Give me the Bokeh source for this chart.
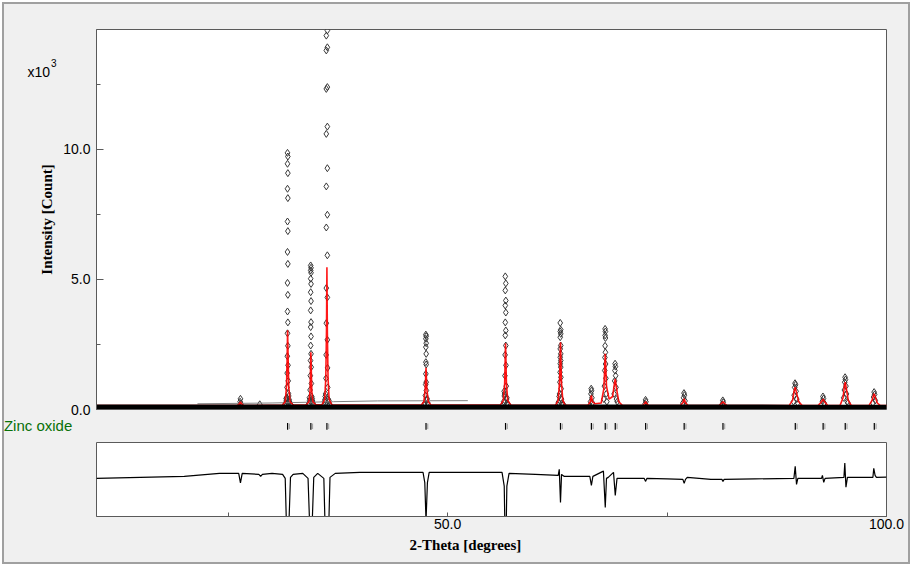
from bokeh.plotting import figure
from bokeh.models import Range1d, FixedTicker, Label, ColumnDataSource
from bokeh.layouts import column
from bokeh.embed import file_html
from bokeh.resources import INLINE
from bokeh.transform import dodge

# ---------------- data ----------------
# Zinc oxide reflection positions (2-theta, degrees)
zno_2theta = [31.77, 34.42, 36.25, 47.54, 56.60, 62.86, 66.38, 67.96, 69.10,
              72.56, 76.95, 81.37, 89.61, 92.78, 95.30, 98.61]

# observed points (2-theta, counts) -- peaks 26-37 deg
obs_2theta_a = [26.40, 26.36, 26.45, 28.60,
                31.76, 31.80, 31.76, 31.80, 31.76, 31.80, 31.76, 31.80, 31.76, 31.80,
                31.76, 31.80, 31.76, 31.80, 31.76, 31.80, 31.74, 31.82, 31.72, 31.84,
                31.70, 31.86, 31.66, 31.90, 31.62, 31.95, 31.55, 32.02, 31.48, 32.10,
                31.42, 32.16, 31.60, 31.97,
                34.40, 34.44, 34.40, 34.44, 34.40, 34.44, 34.40, 34.44, 34.40, 34.44,
                34.40, 34.44, 34.40, 34.44, 34.38, 34.46, 34.36, 34.48, 34.33, 34.52,
                34.28, 34.58, 34.20, 34.65, 34.12, 34.72, 34.25, 34.60,
                36.18, 36.30, 36.18, 36.30, 36.18, 36.30, 36.18, 36.30, 36.18, 36.30,
                36.18, 36.30, 36.18, 36.30, 36.18, 36.30, 36.18, 36.30, 36.16, 36.32,
                36.14, 36.34, 36.10, 36.38, 36.05, 36.44, 35.98, 36.52, 35.90, 36.60,
                36.02, 36.47]
obs_counts_a = [410, 300, 230, 200,
                9870, 9730, 9450, 9090, 8490, 8130, 7230, 6860, 6060, 5600,
                4870, 4410, 3770, 3350, 2930, 2450, 2050, 1700, 1400, 1100,
                850, 620, 450, 520, 330, 380, 250, 270, 190, 200,
                170, 180, 420, 300,
                5540, 5450, 5350, 5260, 5030, 4830, 4510, 4170, 3810, 3360,
                3170, 2810, 2460, 2140, 1880, 1630, 1300, 1000, 750, 500,
                350, 420, 250, 270, 180, 190, 450, 330,
                15300, 14580, 14380, 13930, 13810, 12400, 12330, 10880, 10600, 9280,
                8580, 7490, 7000, 5930, 4670, 4310, 3320, 2680, 2100, 1600,
                1200, 850, 600, 400, 500, 280, 300, 200, 180, 190,
                380, 350]

# observed points -- peaks 47-57 deg
obs_2theta_b = [47.52, 47.56, 47.52, 47.56, 47.52, 47.56, 47.52, 47.56, 47.52, 47.56,
                47.50, 47.58, 47.47, 47.62, 47.42, 47.66, 47.36, 47.72, 47.30, 47.78,
                56.57, 56.63, 56.57, 56.63, 56.57, 56.63, 56.57, 56.63, 56.57, 56.63,
                56.55, 56.65, 56.53, 56.68, 56.49, 56.72, 56.44, 56.78, 56.38, 56.85,
                56.30, 56.92, 56.46, 56.75]
obs_counts_b = [2880, 2820, 2720, 2550, 2400, 2140, 1820, 1730, 1370, 1050,
                960, 730, 540, 380, 250, 420, 200, 260, 180, 190,
                5120, 4850, 4580, 4190, 4000, 3730, 3350, 3040, 2850, 2460,
                2100, 1700, 1300, 900, 600, 400, 700, 250, 300, 200,
                180, 190, 520, 450]

# observed points -- peaks 62-70 deg
obs_2theta_c = [62.83, 62.89, 62.83, 62.89, 62.83, 62.89, 62.83, 62.89, 62.83, 62.89,
                62.83, 62.89, 62.81, 62.91, 62.79, 62.94, 62.75, 62.98, 62.70, 63.04,
                62.62, 63.12, 62.55, 63.20,
                66.36, 66.40, 66.33, 66.44, 66.28, 66.50,
                67.94, 67.98, 67.94, 67.98, 67.94, 67.98, 67.92, 68.00, 67.90, 68.03,
                67.86, 68.07, 67.80, 68.14,
                69.08, 69.12, 69.06, 69.14, 69.03, 69.18, 68.97, 69.24, 69.32]
obs_counts_c = [3330, 3070, 3000, 2910, 2780, 2460, 2330, 2140, 2010, 1880,
                1760, 1630, 1430, 1240, 1050, 800, 600, 400, 500, 250,
                280, 200, 180, 190,
                800, 720, 600, 450, 300, 250,
                3100, 3000, 2850, 2750, 2450, 2200, 2000, 1750, 1500, 1200,
                900, 600, 400, 300,
                1760, 1650, 1500, 1300, 1100, 850, 600, 400, 300]

# observed points -- peaks 72-99 deg
obs_2theta_d = [72.55, 72.60, 72.50,
                76.93, 76.98, 76.88, 77.05, 76.80,
                81.35, 81.40, 81.28,
                89.58, 89.64, 89.54, 89.70, 89.48, 89.78, 89.40, 89.88,
                92.76, 92.82, 92.70, 92.90,
                95.28, 95.33, 95.24, 95.38, 95.20, 95.44, 95.12, 95.52, 95.60,
                98.59, 98.65, 98.53, 98.72, 98.45]
obs_counts_d = [370, 300, 220,
                630, 550, 450, 330, 250,
                350, 280, 200,
                1010, 950, 850, 700, 550, 400, 300, 250,
                500, 420, 320, 250,
                1240, 1150, 1050, 900, 750, 600, 450, 300, 250,
                670, 580, 480, 350, 250]

# observed background band
band_2theta = [10.0, 30.0, 50.0, 70.0, 90.0, 100.0]
band_counts = [105, 110, 110, 105, 100, 100]

# faint grey background line
bkg_2theta = [21.5, 30.0, 37.0, 42.0, 52.3]
bkg_counts = [220, 250, 300, 330, 340]

# calculated profile (red)
calc_2theta = [10.0, 20.0, 26.0, 26.3, 26.4, 26.5, 26.8,
               31.2, 31.5, 31.65, 31.72, 31.77, 31.83, 31.9, 32.05, 32.4,
               33.9, 34.2, 34.33, 34.38, 34.42, 34.47, 34.53, 34.65, 35.0,
               35.7, 36.0, 36.12, 36.2, 36.25, 36.3, 36.38, 36.5, 36.8,
               47.0, 47.3, 47.45, 47.54, 47.63, 47.8, 48.1,
               56.0, 56.35, 56.5, 56.6, 56.7, 56.85, 57.2,
               62.3, 62.6, 62.76, 62.86, 62.96, 63.12, 63.4,
               66.0, 66.25, 66.38, 66.5, 66.8, 67.5, 67.8, 67.96, 68.1, 68.4,
               68.8, 69.0, 69.1, 69.2, 69.5, 69.9,
               72.2, 72.45, 72.56, 72.67, 72.9,
               76.5, 76.8, 76.95, 77.1, 77.4,
               80.9, 81.2, 81.37, 81.55, 81.85,
               88.9, 89.3, 89.5, 89.6, 89.75, 90.0, 90.4,
               92.2, 92.55, 92.78, 92.95, 93.3,
               94.7, 95.05, 95.22, 95.3, 95.4, 95.65, 96.0,
               98.0, 98.35, 98.55, 98.61, 98.7, 98.95, 99.3, 100.0]
calc_counts = [150, 150, 150, 220, 300, 220, 150,
               170, 300, 900, 2000, 3050, 2000, 900, 300, 170,
               170, 300, 700, 1500, 2200, 1500, 700, 300, 180,
               180, 400, 1200, 3000, 5470, 3000, 1200, 400, 180,
               170, 300, 800, 1600, 800, 300, 170,
               170, 350, 1000, 2550, 1000, 350, 170,
               160, 350, 1100, 2590, 1100, 350, 160,
               170, 300, 540, 300, 220, 250, 800, 2140, 900, 400,
               500, 1000, 1180, 900, 300, 160,
               150, 230, 300, 230, 150,
               150, 260, 410, 260, 150,
               150, 230, 300, 230, 150,
               150, 350, 750, 860, 650, 300, 150,
               150, 280, 400, 300, 150,
               150, 450, 950, 1050, 850, 350, 150,
               150, 350, 580, 600, 500, 250, 150, 150]

# difference curve (plotted as calc - obs)
diff_2theta = [10.0, 15.0, 20.0, 24.0, 26.2, 26.4, 26.6, 28.5, 28.7, 28.9, 30.0,
               31.2, 31.5, 31.65, 31.77, 31.9, 32.1, 32.4,
               33.5, 34.1, 34.3, 34.42, 34.55, 34.75, 35.2,
               35.9, 36.1, 36.25, 36.4, 36.6, 37.2,
               40.0, 45.0, 47.2, 47.4, 47.54, 47.7, 47.9,
               50.0, 55.0, 56.2, 56.45, 56.6, 56.75, 57.0,
               60.0, 62.6, 62.72, 62.86, 62.98, 63.3,
               64.5, 66.2, 66.38, 66.55,
               67.75, 67.96, 68.1, 68.3, 68.9, 69.1, 69.3,
               70.0, 72.4, 72.56, 72.7,
               75.0, 76.8, 76.95, 77.1, 77.3,
               80.0, 81.25, 81.37, 81.5, 85.0,
               89.45, 89.6, 89.75, 89.9,
               92.6, 92.7, 92.85, 93.0,
               95.15, 95.25, 95.38, 95.55,
               98.45, 98.55, 98.7, 98.85, 100.0]
diff_counts = [-84, -56, -28, 56, 56, -210, 56, 28, -28, 28, 56,
               28, -84, -1500, -6800, -1500, -56, 28,
               56, -84, -1500, -3300, -1500, -56, 56,
               -84, -2000, -9500, -2000, -56, 56,
               84, 84, 84, -200, -1280, -200, 84,
               84, 84, 84, -300, -2550, -300, 56,
               28, 0, 168, -756, 28, -28,
               -28, -28, -280, -28,
               120, -896, -84, -56, 84, -560, -84,
               -84, -84, -168, -84,
               -98, -112, -224, -112, -56,
               -112, -112, -168, -112, -98,
               -84, 252, -252, -84,
               -84, 0, -196, -84,
               -56, 344, -328, -56,
               -56, 196, 0, -56, -48]

# axis ticks
x_major = [50, 100]
x_minor = [25, 75]
x_labels = {50: "50.0", 100: "100.0"}
y_major = [0, 5000, 10000]
y_minor = [2500, 7500, 12500]
y_labels = {0: "0.0", 5000: "5.0", 10000: "10.0"}

# ---------------- styling ----------------
BG = "#f0f0f0"
FRAME = "#5a5a5a"
SANS = "Liberation Sans"
SERIF = "Liberation Serif"
W = 904
ML, MR = 92, 22

xr = Range1d(10, 100)

# ---- main panel ----
p = figure(width=W, height=414, x_range=xr, y_range=Range1d(0, 14615),
           output_backend="svg", toolbar_location=None, x_axis_location=None,
           min_border_left=ML, min_border_right=MR, min_border_top=25, min_border_bottom=9)
p.background_fill_color = "white"
p.border_fill_color = BG
p.outline_line_color = FRAME
p.grid.visible = False
ya = p.yaxis[0]
ya.ticker = FixedTicker(ticks=y_major, minor_ticks=y_minor)
ya.major_label_overrides = y_labels
ya.major_tick_in = 7
ya.major_tick_out = 0
ya.minor_tick_in = 4
ya.minor_tick_out = 0
ya.major_tick_line_color = FRAME
ya.minor_tick_line_color = FRAME
ya.axis_line_color = FRAME
ya.major_label_text_font = SANS
ya.major_label_text_font_size = "14px"
ya.major_label_text_color = "black"
ya.major_label_standoff = 6
ya.axis_label = "Intensity [Count]"
ya.axis_label_text_font = SERIF
ya.axis_label_text_font_style = "bold"
ya.axis_label_text_font_size = "15px"
ya.axis_label_text_color = "black"
ya.axis_label_standoff = 5

for xs, ys in [(obs_2theta_a, obs_counts_a), (obs_2theta_b, obs_counts_b),
               (obs_2theta_c, obs_counts_c), (obs_2theta_d, obs_counts_d)]:
    p.scatter(xs, ys, marker="diamond", size=7, line_color="#383838",
              fill_color=None, line_width=1)
p.line(bkg_2theta, bkg_counts, line_color="#808080", line_width=1)
p.line(calc_2theta, calc_counts, line_color="red", line_width=1.6, line_alpha=0.9)
p.line(band_2theta, band_counts, line_color="black", line_width=4.5)

p.add_layout(Label(x=2.14, y=12973, text="x10",
                   text_font=SANS, text_font_size="14px", text_color="black",
                   text_baseline="alphabetic"), "left")
p.add_layout(Label(x=4.82, y=13308, text="3",
                   text_font=SANS, text_font_size="10px", text_color="black",
                   text_baseline="alphabetic"), "left")

# ---- phase tick strip ----
pt = figure(width=W, height=23, x_range=xr, y_range=Range1d(0, 1),
            output_backend="svg", toolbar_location=None,
            x_axis_location=None, y_axis_location=None,
            min_border_left=ML, min_border_right=MR, min_border_top=0, min_border_bottom=0)
pt.background_fill_color = BG
pt.border_fill_color = BG
pt.outline_line_color = None
pt.grid.visible = False
tsrc = ColumnDataSource(dict(x=zno_2theta))
pt.segment(x0=dodge("x", 0.2), x1=dodge("x", 0.2), y0=0.54, y1=0.78, source=tsrc,
           line_color="#9a9a9a", line_width=1)
pt.segment(x0="x", x1="x", y0=0.51, y1=0.80, source=tsrc, line_color="black", line_width=1.2)
pt.add_layout(Label(x=-0.55, y=0.70, text="Zinc oxide",
                    text_font=SANS, text_font_size="15px", text_color="#087008",
                    text_baseline="middle"), "left")

# ---- difference panel ----
pd_ = figure(width=W, height=121, x_range=xr, y_range=Range1d(-1150, 920),
             output_backend="svg", toolbar_location=None, y_axis_location=None,
             min_border_left=ML, min_border_right=MR, min_border_top=1, min_border_bottom=46)
pd_.background_fill_color = "white"
pd_.border_fill_color = BG
pd_.outline_line_color = FRAME
pd_.grid.visible = False
xa = pd_.xaxis[0]
xa.ticker = FixedTicker(ticks=x_major, minor_ticks=x_minor)
xa.major_label_overrides = x_labels
xa.major_tick_in = 4
xa.major_tick_out = 0
xa.minor_tick_in = 4
xa.minor_tick_out = 0
xa.major_tick_line_color = FRAME
xa.minor_tick_line_color = FRAME
xa.axis_line_color = FRAME
xa.major_label_text_font = SANS
xa.major_label_text_font_size = "14px"
xa.major_label_text_color = "black"
xa.major_label_standoff = 2
pd_.line(diff_2theta, diff_counts, line_color="black", line_width=1.2)
pd_.add_layout(Label(x=52.03, y=-1961,
                     text="2-Theta [degrees]", text_font=SERIF, text_font_style="bold",
                     text_font_size="15px", text_color="black", text_align="center",
                     text_baseline="middle"), "below")

layout = column(p, pt, pd_, spacing=0,
                styles={"border": "2px solid #a0a0a0", "margin": "2px 0 0 2px",
                        "background-color": BG})
open("out.html", "w").write(file_html(layout, INLINE))
